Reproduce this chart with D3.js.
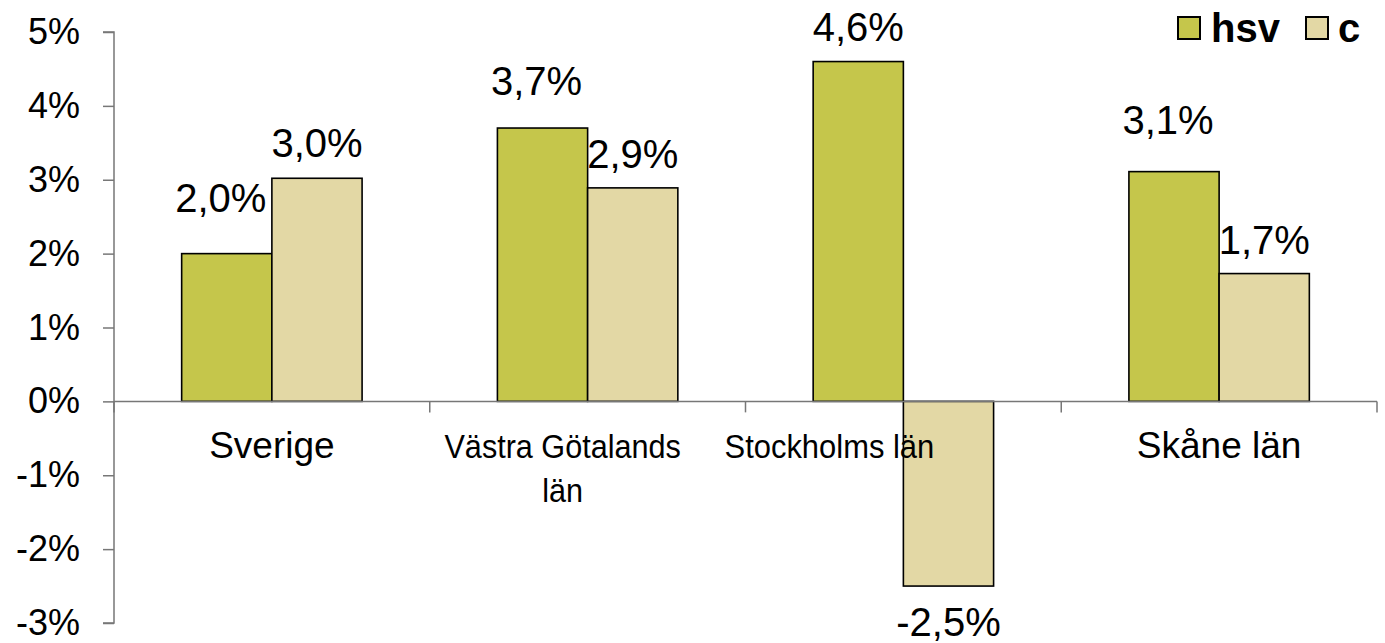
<!DOCTYPE html>
<html>
<head>
<meta charset="utf-8">
<script src="https://cdn.jsdelivr.net/npm/d3@7"></script>
<style>
  html, body { margin: 0; padding: 0; background: #fff; }
  svg { display: block; font-family: Arial, "Liberation Sans", sans-serif; }
</style>
</head>
<body>
<svg id="chart" width="1385" height="643"></svg>
<script>
// ---- data ----
const categories = ["Sverige", "Västra Götalands län", "Stockholms län", "Skåne län"];
const categoryLines = [["Sverige"], ["Västra Götalands", "län"], ["Stockholms län"], ["Skåne län"]];
const seriesNames = ["hsv", "c"];
const hsvValues = [2.0, 3.7, 4.6, 3.11];
const cValues = [3.02, 2.89, -2.5, 1.73];
const hsvLabels = ["2,0%", "3,7%", "4,6%", "3,1%"];
const cLabels = ["3,0%", "2,9%", "-2,5%", "1,7%"];
const yTicks = [-3, -2, -1, 0, 1, 2, 3, 4, 5];
const yTickLabels = ["-3%", "-2%", "-1%", "0%", "1%", "2%", "3%", "4%", "5%"];

// ---- style ----
const colors = { hsv: "#C5C64B", c: "#E3D8A5" };
const catFontSize = [37, 34, 34, 37];
const catScaleX = [1, 0.9, 0.91, 1];
const catDx = [0, -25, -74, 0];
const hsvLabelDx = [-6, -6, 0, -6];
const hsvLabelGap = [42, 33, 21, 38];
const cLabelGap = [21, 20, 50, 20];

(function () {
const svg = d3.select("#chart");
const mLeft = 114, mRight = 1377, mTop = 32, mBottom = 623;

const x0 = d3.scaleBand().domain(categories).range([mLeft, mRight]).padding(0);
const x1 = d3.scaleBand().domain(seriesNames).range([0, x0.bandwidth()]).paddingInner(0).paddingOuter(0.75);
const y = d3.scaleLinear().domain([-3, 5]).range([mBottom, mTop]);

const axisColor = "#777";

// y axis
const yAxis = svg.append("g").attr("transform", `translate(${mLeft},0)`)
  .call(d3.axisLeft(y).tickValues(yTicks).tickSize(11).tickPadding(23)
    .tickFormat((d, i) => yTickLabels[i]));
yAxis.select(".domain").attr("stroke", axisColor).attr("stroke-width", 1.5).attr("d", `M-11,${y(-3)}H0V${y(5)}H-11`);
yAxis.selectAll(".tick line").attr("stroke", axisColor).attr("stroke-width", 1.5);
yAxis.selectAll(".tick text").attr("font-size", 36).attr("fill", "#000")
  .attr("font-family", "Arial, 'Liberation Sans', sans-serif");

// bars
const rows = categories.map((c, i) => ({ cat: c, i, vals: [
  { key: "hsv", v: hsvValues[i], label: hsvLabels[i] },
  { key: "c", v: cValues[i], label: cLabels[i] }
]}));

const g = svg.append("g");
const groups = g.selectAll("g.grp").data(rows).join("g")
  .attr("transform", d => `translate(${x0(d.cat)},0)`);
groups.selectAll("rect").data(d => d.vals).join("rect")
  .attr("x", d => x1(d.key))
  .attr("width", x1.bandwidth())
  .attr("y", d => y(Math.max(0, d.v)))
  .attr("height", d => Math.abs(y(d.v) - y(0)))
  .attr("fill", d => colors[d.key])
  .attr("stroke", "#000").attr("stroke-width", 1.6);

// x axis line with category ticks
const xAxisG = svg.append("g");
xAxisG.append("line").attr("x1", mLeft).attr("x2", mRight).attr("y1", y(0)).attr("y2", y(0))
  .attr("stroke", axisColor).attr("stroke-width", 1.5);
const boundaries = categories.map(c => x0(c)).concat([x0(categories[categories.length - 1]) + x0.bandwidth()]);
xAxisG.selectAll("line.tk").data(boundaries).join("line").attr("class", "tk")
  .attr("x1", d => d).attr("x2", d => d).attr("y1", y(0)).attr("y2", y(0) + 11)
  .attr("stroke", axisColor).attr("stroke-width", 1.5);

// category labels
categories.forEach((c, i) => {
  const cx = x0(c) + x0.bandwidth() / 2 + catDx[i];
  const t = svg.append("text").attr("text-anchor", "middle").attr("font-size", catFontSize[i]).attr("fill", "#000")
    .attr("transform", `translate(${cx},0) scale(${catScaleX[i]},1)`);
  categoryLines[i].forEach((line, j) => {
    t.append("tspan").attr("x", 0).attr("y", 458 + j * 44).text(line);
  });
});

// data labels
rows.forEach(r => {
  r.vals.forEach((d, k) => {
    const cx = x0(r.cat) + x1(d.key) + x1.bandwidth() / 2 + (k === 0 ? hsvLabelDx[r.i] : 0);
    const gap = k === 0 ? hsvLabelGap[r.i] : cLabelGap[r.i];
    const yy = d.v >= 0 ? y(d.v) - gap : y(d.v) + gap;
    svg.append("text").attr("x", cx).attr("y", yy).attr("text-anchor", "middle")
      .attr("font-size", 40).attr("fill", "#000").text(d.label);
  });
});

// legend
const legend = svg.append("g");
const legendItems = [{ key: "hsv", x: 1178, tx: 1211 }, { key: "c", x: 1306, tx: 1338 }];
legendItems.forEach(it => {
  legend.append("rect").attr("x", it.x).attr("y", 17).attr("width", 22).attr("height", 22)
    .attr("fill", colors[it.key]).attr("stroke", "#000").attr("stroke-width", 2);
  legend.append("text").attr("x", it.tx).attr("y", 42).attr("font-size", 40).attr("font-weight", "bold")
    .attr("fill", "#000").text(it.key);
});
})();
</script>
</body>
</html>
